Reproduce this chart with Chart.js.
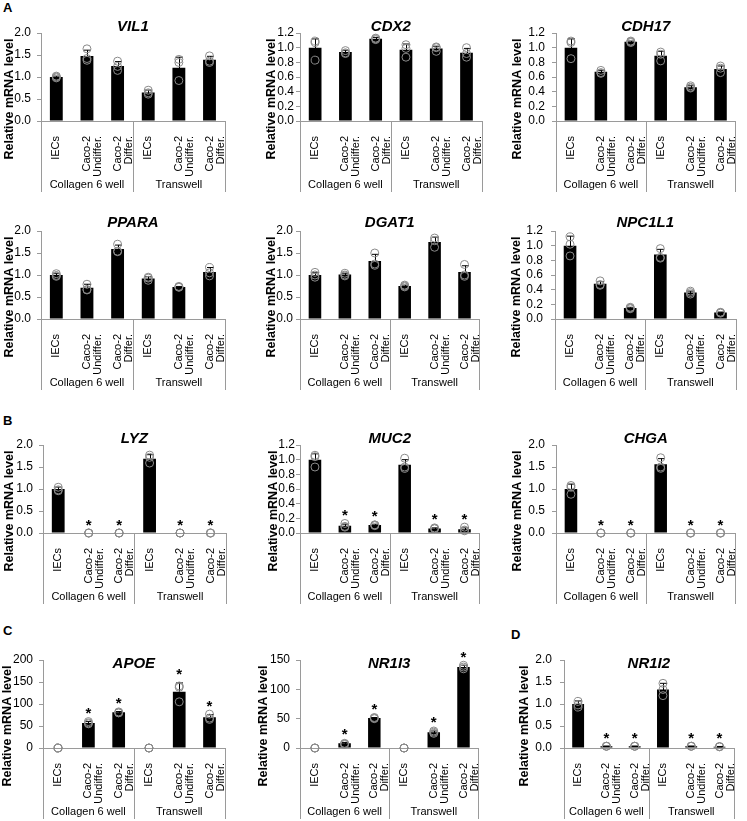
<!DOCTYPE html>
<html>
<head>
<meta charset="utf-8">
<script src="https://cdn.jsdelivr.net/npm/chart.js@4.4.1/dist/chart.umd.min.js"></script>
<style>
  body { margin: 0; background: #fff; width: 747px; height: 821px; position: relative; overflow: hidden; }
  canvas { position: absolute; }
  .tag { position: absolute; font: bold 13px "Liberation Sans", Arial, sans-serif; line-height: 1; }
</style>
</head>
<body>
<div class="tag" style="left:3px;top:1px">A</div>
<div class="tag" style="left:3px;top:414px">B</div>
<div class="tag" style="left:3px;top:624px">C</div>
<div class="tag" style="left:511px;top:628px">D</div>
<script>
// x categories and the two culture groups
var cats = [['IECs'], ['Caco-2', 'Undiffer.'], ['Caco-2', 'Differ.'], ['IECs'], ['Caco-2', 'Undiffer.'], ['Caco-2', 'Differ.']];
var groups = ['Collagen 6 well', 'Transwell'];
var yTitle = 'Relative mRNA level';

// significance marks (*)
var sigNone = [0, 0, 0, 0, 0, 0];
var sigCaco = [0, 1, 1, 0, 1, 1];

// means, SD and the three replicates per bar
var VIL1_mean = [1.00, 1.48, 1.25, 0.65, 1.21, 1.39];
var VIL1_sd = [0.02, 0.13, 0.10, 0.05, 0.24, 0.08];
var VIL1_pts = [[1.02, 1.00, 0.98], [1.64, 1.42, 1.38], [1.36, 1.24, 1.15], [0.70, 0.64, 0.61], [1.40, 1.33, 0.92], [1.48, 1.36, 1.33]];

var CDX2_mean = [1.00, 0.94, 1.12, 0.97, 0.99, 0.93];
var CDX2_sd = [0.12, 0.02, 0.02, 0.08, 0.03, 0.06];
var CDX2_pts = [[1.09, 1.07, 0.83], [0.96, 0.93, 0.92], [1.13, 1.12, 1.11], [1.04, 0.99, 0.87], [1.01, 1.00, 0.95], [1.00, 0.92, 0.87]];

var CDH17_mean = [1.00, 0.67, 1.08, 0.89, 0.46, 0.71];
var CDH17_sd = [0.12, 0.02, 0.01, 0.06, 0.02, 0.04];
var CDH17_pts = [[1.09, 1.07, 0.85], [0.69, 0.66, 0.65], [1.09, 1.08, 1.07], [0.94, 0.91, 0.82], [0.48, 0.46, 0.45], [0.75, 0.72, 0.66]];

var PPARA_mean = [1.00, 0.71, 1.59, 0.92, 0.73, 1.07];
var PPARA_sd = [0.03, 0.08, 0.09, 0.04, 0.01, 0.10];
var PPARA_pts = [[1.03, 0.99, 0.97], [0.79, 0.67, 0.66], [1.70, 1.54, 1.53], [0.95, 0.93, 0.88], [0.74, 0.73, 0.72], [1.17, 1.05, 0.98]];

var DGAT1_mean = [1.00, 1.01, 1.32, 0.75, 1.75, 1.07];
var DGAT1_sd = [0.05, 0.03, 0.15, 0.02, 0.11, 0.14];
var DGAT1_pts = [[1.06, 1.00, 0.95], [1.04, 1.00, 0.98], [1.50, 1.25, 1.22], [0.77, 0.75, 0.73], [1.84, 1.78, 1.63], [1.24, 1.00, 0.97]];

var NPC1L1_mean = [1.00, 0.48, 0.15, 0.88, 0.36, 0.09];
var NPC1L1_sd = [0.13, 0.03, 0.01, 0.07, 0.02, 0.005];
var NPC1L1_pts = [[1.12, 1.02, 0.86], [0.52, 0.47, 0.46], [0.16, 0.15, 0.14], [0.96, 0.84, 0.83], [0.38, 0.36, 0.34], [0.09, 0.09, 0.08]];

var LYZ_mean = [1.00, 0, 0, 1.69, 0, 0];
var LYZ_sd = [0.04, 0, 0, 0.09, 0, 0];
var LYZ_pts = [[1.04, 0.98, 0.96], [0, 0, 0], [0, 0, 0], [1.77, 1.72, 1.59], [0, 0, 0], [0, 0, 0]];

var MUC2_mean = [1.00, 0.10, 0.11, 0.93, 0.06, 0.05];
var MUC2_sd = [0.08, 0.02, 0.01, 0.07, 0.01, 0.02];
var MUC2_pts = [[1.06, 1.04, 0.90], [0.13, 0.09, 0.08], [0.11, 0.11, 0.10], [1.02, 0.90, 0.88], [0.07, 0.06, 0.06], [0.08, 0.04, 0.03]];

var CHGA_mean = [1.00, 0, 0, 1.56, 0, 0];
var CHGA_sd = [0.11, 0, 0, 0.13, 0, 0];
var CHGA_pts = [[1.08, 1.04, 0.88], [0, 0, 0], [0, 0, 0], [1.71, 1.50, 1.47], [0, 0, 0], [0, 0, 0]];

var APOE_mean = [1, 57, 81, 1, 128, 70];
var APOE_sd = [0, 3, 2, 0, 20, 6];
var APOE_pts = [[0, 0, 0], [60, 57, 55], [82, 80, 80], [0, 0, 0], [141, 138, 105], [77, 68, 65]];

var NR1I3_mean = [1, 8, 51, 1, 27, 138];
var NR1I3_sd = [0, 1.5, 1, 0, 2, 3];
var NR1I3_pts = [[0, 0, 0], [8, 7, 6], [52, 51, 50], [0, 0, 0], [29, 27, 25], [141, 138, 135]];

var NR1I2_mean = [1.00, 0.04, 0.04, 1.33, 0.04, 0.03];
var NR1I2_sd = [0.07, 0.005, 0.005, 0.14, 0.005, 0.005];
var NR1I2_pts = [[1.06, 0.98, 0.93], [0.04, 0.04, 0.04], [0.04, 0.04, 0.04], [1.47, 1.33, 1.19], [0.04, 0.04, 0.04], [0.03, 0.03, 0.03]];

// gene, data, y max, step, decimals, [axisX, right, top, yLabelOff, tickGap, titleOff]
var panels = [
  ['VIL1', VIL1_mean, VIL1_sd, VIL1_pts, sigNone, 2.0, 0.5, 1, [41, 233, 33, 31, 10, -6]],
  ['CDX2', CDX2_mean, CDX2_sd, CDX2_pts, sigNone, 1.2, 0.2, 1, [300, 490, 33, 28, 6, -6]],
  ['CDH17', CDH17_mean, CDH17_sd, CDH17_pts, sigNone, 1.2, 0.2, 1, [556, 744, 33, 38, 11, -6]],
  ['PPARA', PPARA_mean, PPARA_sd, PPARA_pts, sigNone, 2.0, 0.5, 1, [41, 233, 231, 31, 10, -8]],
  ['DGAT1', DGAT1_mean, DGAT1_sd, DGAT1_pts, sigNone, 2.0, 0.5, 1, [300, 488, 231, 28, 7, -8]],
  ['NPC1L1', NPC1L1_mean, NPC1L1_sd, NPC1L1_pts, sigNone, 1.2, 0.2, 1, [555, 744, 231, 38, 12, -8]],
  ['LYZ', LYZ_mean, LYZ_sd, LYZ_pts, sigCaco, 2.0, 0.5, 1, [43, 234, 445, 33, 10, -6]],
  ['MUC2', MUC2_mean, MUC2_sd, MUC2_pts, sigCaco, 1.2, 0.2, 1, [300, 488, 445, 26, 5, -6]],
  ['CHGA', CHGA_mean, CHGA_sd, CHGA_pts, sigCaco, 2.0, 0.5, 1, [556, 744, 445, 38, 11, -6]],
  ['APOE', APOE_mean, APOE_sd, APOE_pts, sigCaco, 200, 50, 0, [43, 233, 660, 35, 10, 4]],
  ['NR1I3', NR1I3_mean, NR1I3_sd, NR1I3_pts, sigCaco, 150, 50, 0, [300, 487, 660, 36, 10, 4]],
  ['NR1I2', NR1I2_mean, NR1I2_sd, NR1I2_pts, sigCaco, 2.0, 0.5, 1, [564, 743, 660, 39, 12, 4]]
];

var FONT = '"Liberation Sans", Arial, sans-serif';
var GRAY = '#9a9a9a';
var PLOT_H = 88, TOP_PAD = 25, X_H = 80, Y_W = 48;

function makeExtras(p) {
  var mean = p[1], sd = p[2], pts = p[3], sig = p[4], lay = p[8];
  return {
    id: 'extras',
    // error bars right after the bars, under the circles
    afterDatasetDraw: function (chart, args) {
      if (args.index !== 0) return;
      var x = chart.scales.x, y = chart.scales.y, ctx = chart.ctx;
      ctx.save();
      ctx.strokeStyle = '#000';
      ctx.lineWidth = 1;
      mean.forEach(function (m, i) {
        if (!sd[i]) return;
        var cx = Math.round(x.getPixelForValue(i)) + 0.5;
        var t = y.getPixelForValue(m + sd[i]);
        var b = y.getPixelForValue(Math.max(0, m - sd[i]));
        ctx.beginPath();
        ctx.moveTo(cx, t); ctx.lineTo(cx, b);
        ctx.moveTo(cx - 3.5, t); ctx.lineTo(cx + 3.5, t);
        ctx.moveTo(cx - 3.5, b); ctx.lineTo(cx + 3.5, b);
        ctx.stroke();
      });
      ctx.restore();
    },
    afterDraw: function (chart) {
      var x = chart.scales.x, y = chart.scales.y, ctx = chart.ctx, a = chart.chartArea;
      ctx.save();
      // gene title
      ctx.fillStyle = '#000';
      ctx.textAlign = 'center';
      ctx.textBaseline = 'middle';
      ctx.font = 'italic bold 15px ' + FONT;
      ctx.fillText(p[0], (a.left + a.right) / 2, a.top + lay[5]);
      // y title
      ctx.save();
      ctx.translate(a.left - lay[3], (a.top + a.bottom) / 2 + 22);
      ctx.rotate(-Math.PI / 2);
      ctx.font = 'bold 12.5px ' + FONT;
      ctx.fillText(yTitle, 0, 0);
      ctx.restore();
      // group boxes under the axis
      var mid = (a.left + a.right) / 2;
      ctx.strokeStyle = GRAY;
      ctx.lineWidth = 1;
      ctx.beginPath();
      [a.left, mid, a.right].forEach(function (gx) {
        gx = Math.round(gx) + 0.5;
        ctx.moveTo(gx, a.bottom); ctx.lineTo(gx, a.bottom + 71);
      });
      ctx.stroke();
      ctx.font = '11px ' + FONT;
      ctx.fillText(groups[0], (a.left + mid) / 2, a.bottom + 64);
      ctx.fillText(groups[1], (mid + a.right) / 2, a.bottom + 64);
      // significance stars
      ctx.font = 'bold 15px ' + FONT;
      ctx.textBaseline = 'alphabetic';
      sig.forEach(function (s, i) {
        if (!s) return;
        var top = Math.max(mean[i] + sd[i], Math.max.apply(null, pts[i]));
        ctx.fillText('*', x.getPixelForValue(i), y.getPixelForValue(top) - 3.5);
      });
      ctx.restore();
    }
  };
}

panels.forEach(function (p) {
  var lay = p[8];
  var left = lay[0] - Y_W;
  var cv = document.createElement('canvas');
  cv.width = lay[1] - left + 6;
  cv.height = TOP_PAD + PLOT_H + X_H;
  cv.style.left = left + 'px';
  cv.style.top = (lay[2] - TOP_PAD) + 'px';
  document.body.appendChild(cv);

  var datasets = [{
    type: 'bar',
    data: p[1],
    backgroundColor: '#000',
    borderColor: '#000',
    borderWidth: 0,
    barPercentage: 0.42,
    categoryPercentage: 1,
    order: 2
  }];
  [0, 1, 2].forEach(function (k) {
    datasets.push({
      type: 'line',
      data: p[3].map(function (r) { return r[k]; }),
      showLine: false,
      pointRadius: 4,
      pointBorderWidth: 1,
      pointBorderColor: '#8a8a8a',
      pointBackgroundColor: 'rgba(255,255,255,0)',
      clip: false,
      order: 1
    });
  });

  new Chart(cv, {
    type: 'bar',
    data: { labels: cats, datasets: datasets },
    options: {
      responsive: false,
      animation: false,
      events: [],
      layout: { padding: { top: TOP_PAD, right: 6, bottom: 0, left: 0 } },
      plugins: { legend: { display: false }, tooltip: { enabled: false } },
      scales: {
        x: {
          offset: true,
          grid: { display: false },
          border: { display: true, color: GRAY, width: 1 },
          ticks: {
            autoSkip: false,
            minRotation: 90,
            maxRotation: 90,
            padding: 7,
            color: '#000',
            font: { family: FONT, size: 11, lineHeight: 1.0 }
          },
          afterFit: function (s) { s.height = X_H; }
        },
        y: {
          min: 0,
          max: p[5],
          grid: { display: true, drawOnChartArea: false, drawTicks: true, tickLength: 4, color: GRAY },
          border: { display: true, color: GRAY, width: 1 },
          ticks: {
            stepSize: p[6],
            autoSkip: false,
            padding: lay[4] - 4,
            color: '#000',
            font: { family: FONT, size: 12 },
            callback: function (v) { return v.toFixed(p[7]); }
          },
          afterFit: function (s) { s.width = Y_W; }
        }
      }
    },
    plugins: [makeExtras(p)]
  });
});
</script>
</body>
</html>
